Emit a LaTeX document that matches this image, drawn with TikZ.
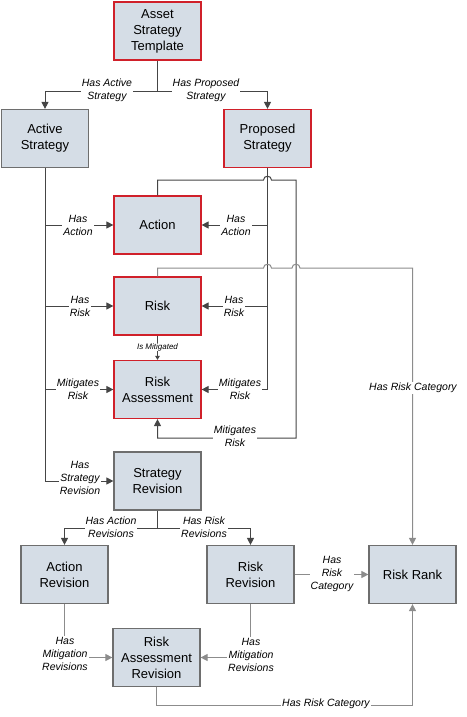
\documentclass[tikz,border=0pt]{standalone}
\usepackage{fontspec}
\setmainfont{Liberation Sans}
\usetikzlibrary{arrows.meta}
\definecolor{boxfill}{HTML}{D5DDE6}
\definecolor{boxgray}{HTML}{6E6E6E}
\definecolor{boxred}{HTML}{D0202A}
\definecolor{lnd}{HTML}{454545}
\definecolor{lnl}{HTML}{8C8C8C}
\begin{document}
\begin{tikzpicture}[x=1pt,y=-1pt,
 box/.style={draw=boxgray, line width=1.2pt, fill=boxfill, minimum width=87pt, minimum height=58pt, align=center, font=\fontsize{13}{16}\selectfont, inner sep=0pt},
 redbox/.style={box, draw=boxred},
 plain/.style={draw=lnd, line width=1pt},
 conn/.style={plain, -{Triangle[length=7pt,width=7pt]}},
 connl/.style={conn, draw=lnl},
 plainl/.style={plain, draw=lnl},
 lab/.style={fill=white, font=\fontsize{10.5}{13}\selectfont\itshape, align=center, inner sep=1pt},
 smalllab/.style={fill=white, font=\fontsize{8}{10}\selectfont\itshape, align=center, inner sep=0.5pt},
]
\useasboundingbox (0,0) rectangle (466,717);

% boxes
\node[redbox] (AST) at (157.5,31) {Asset\\Strategy\\Template};
\node[box] (Active) at (45,138.5) {Active\\Strategy};
\node[redbox] (Proposed) at (267.5,138.5) {Proposed\\Strategy};
\node[redbox] (Action) at (157.5,225) {Action};
\node[redbox] (Risk) at (157.5,306) {Risk};
\node[redbox] (RA) at (157.5,389.5) {Risk\\Assessment};
\node[box] (SR) at (157.5,481) {Strategy\\Revision};
\node[box] (AR) at (64.5,574.5) {Action\\Revision};
\node[box] (RR) at (250.5,574.5) {Risk\\Revision};
\node[box] (RRank) at (412.5,574.5) {Risk Rank};
\node[box] (RAR) at (156.5,657.5) {Risk\\Assessment\\Revision};

% Asset Strategy Template connectors
\coordinate (j1) at (157.5,91);
\draw[plain] (AST.south) -- (j1);
\draw[conn] (j1) -| (Active.north);
\draw[conn] (j1) -| (Proposed.north);
\node[lab] (l1) at (107,90.5) {Has Active\\Strategy};
\node[lab] (l2) at (206,90.5) {Has Proposed\\Strategy};

% Active Strategy trunk
\draw[plain] (Active.south) -- (Active.south |- SR.west);
\draw[conn] (Active.south |- Action.west) -- (Action.west);
\draw[conn] (Active.south |- Risk.west) -- (Risk.west);
\draw[conn] (Active.south |- RA.west) -- (RA.west);
\draw[conn] (Active.south |- SR.west) -- (SR.west);
\node[lab] (l3) at (78,225) {Has\\Action};
\node[lab] (l4) at (80,306) {Has\\Risk};
\node[lab] (l5) at (78,389) {Mitigates\\Risk};
\node[lab] (l6) at (80,478) {Has\\Strategy\\Revision};

% Action -> Risk Assessment (around the right)
\draw[conn] (Action.north) -- (157.5,180) -- (263.5,180)
  .. controls (263.5,175) and (271.5,175) .. (271.5,180)
  -- (296,180) -- (296,438) -- (157.5,438) -- (RA.south);
\node[lab] (l7) at (235,436) {Mitigates\\Risk};

% Proposed Strategy trunk
\draw[conn] (Proposed.south) |- (RA.east);
\draw[conn] (Proposed.south |- Action.east) -- (Action.east);
\draw[conn] (Proposed.south |- Risk.east) -- (Risk.east);
\node[lab] (l8) at (236,225) {Has\\Action};
\node[lab] (l9) at (234,306) {Has\\Risk};
\node[lab] (l10) at (240,389) {Mitigates\\Risk};

% Risk -> Risk Rank
\draw[connl] (Risk.north) -- (157.5,268) -- (263.5,268)
  .. controls (263.5,263) and (271.5,263) .. (271.5,268)
  -- (292,268)
  .. controls (292,263) and (300,263) .. (300,268)
  -- (412.5,268) -- (RRank.north);
\node[lab] (l11) at (413,388) {Has Risk Category};

% Risk -> Risk Assessment
\draw[plain, -{Triangle[length=4pt,width=4.5pt]}] (Risk.south) -- (RA.north);
\node[smalllab] (l12) at (157.5,347) {Is Mitigated};

% Strategy Revision connectors
\coordinate (j2) at (157.5,528);
\draw[plain] (SR.south) -- (j2);
\draw[conn] (j2) -| (AR.north);
\draw[conn] (j2) -| (RR.north);
\node[lab] (l13) at (111,527.5) {Has Action\\Revisions};
\node[lab] (l14) at (204,527.5) {Has Risk\\Revisions};

% Revisions -> Risk Assessment Revision
\draw[connl] (AR.south) |- (RAR.west);
\draw[connl] (RR.south) |- (RAR.east);
\node[lab] (l15) at (65,654) {Has\\Mitigation\\Revisions};
\node[lab] (l16) at (251,655) {Has\\Mitigation\\Revisions};

% Risk Revision -> Risk Rank
\draw[connl] (RR.east) -- (RRank.west);
\node[lab] (l17) at (332,574) {Has\\Risk\\Category};

% RAR -> Risk Rank
\draw[connl] (RAR.south) -- (156.5,705) -| (RRank.south);
\node[lab] (l18) at (326,704) {Has Risk Category};
\end{tikzpicture}
\end{document}
